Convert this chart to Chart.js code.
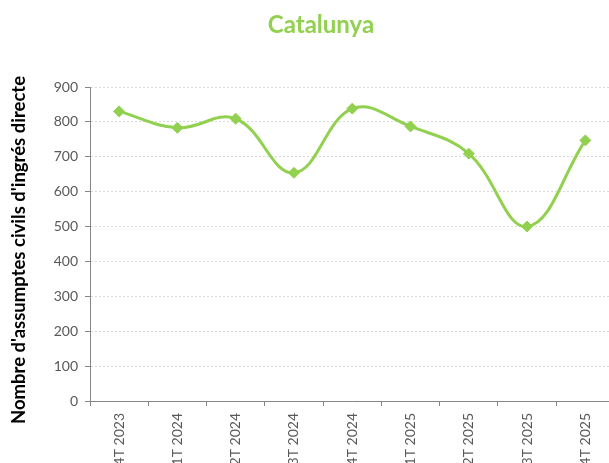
<!DOCTYPE html>
<html>
<head>
<meta charset="utf-8">
<script src="https://cdn.jsdelivr.net/npm/chart.js@4/dist/chart.umd.min.js"></script>
<style>
html, body { margin: 0; padding: 0; overflow: hidden; background: #fff; }
#wrap { position: absolute; left: 0; top: 0; width: 621px; height: 463px; }
</style>
</head>
<body>
<div id="wrap"><canvas id="c"></canvas></div>
<script>
const chartTitle = 'Catalunya';
const yAxisTitle = "Nombre d'assumptes civils d'ingrés directe";
const categories = ['4T 2023', '1T 2024', '2T 2024', '3T 2024', '4T 2024', '1T 2025', '2T 2025', '3T 2025', '4T 2025'];
const values = [830, 783, 809, 654, 838, 787, 709, 500, 747];
const yTicks = [0, 100, 200, 300, 400, 500, 600, 700, 800, 900];

const GREEN = '#92D050';
const AXIS = '#868686';
const GRID = '#d9d9d9';

const titlePlugin = {
  id: 'titles',
  afterDraw(chart) {
    const ctx = chart.ctx;
    ctx.save();
    ctx.font = 'bold 24px Lato';
    ctx.fillStyle = GREEN;
    ctx.textAlign = 'center';
    ctx.textBaseline = 'middle';
    ctx.fillText(chartTitle, 321, 25);
    ctx.restore();

    ctx.save();
    ctx.translate(19, 250);
    ctx.rotate(-Math.PI / 2);
    ctx.font = 'bold 18.5px Lato';
    ctx.fillStyle = '#000';
    ctx.textAlign = 'center';
    ctx.textBaseline = 'middle';
    ctx.fillText(yAxisTitle, 0, 0);
    ctx.restore();
  }
};

new Chart(document.getElementById('c'), {
  type: 'line',
  data: {
    labels: categories,
    datasets: [{
      data: values,
      borderColor: GREEN,
      backgroundColor: GREEN,
      borderWidth: 3,
      tension: 0.4,
      pointStyle: 'rectRot',
      pointRadius: 5.5,
      pointBorderWidth: 1,
      pointBackgroundColor: GREEN,
      pointBorderColor: GREEN,
      fill: false
    }]
  },
  options: {
    responsive: true,
    maintainAspectRatio: false,
    animation: false,
    layout: { padding: { top: 87, left: 0, right: 0, bottom: 0 } },
    plugins: { legend: { display: false }, title: { display: false }, tooltip: { enabled: false } },
    scales: {
      x: {
        offset: true,
        grid: { offset: true, drawOnChartArea: false, drawTicks: true, tickLength: 5, tickColor: AXIS, tickBorderDash: [] },
        border: { color: AXIS, width: 1 },
        ticks: { autoSkip: false, minRotation: 90, maxRotation: 90, padding: 7, color: '#595959', font: { family: 'Lato', size: 14 } },
        afterFit(scale) { scale.height = 62; }
      },
      y: {
        min: 0, max: 900,
        afterBuildTicks(scale) { scale.ticks = yTicks.map(v => ({ value: v })); },
        grid: { color: GRID, tickLength: 5, tickColor: AXIS, tickBorderDash: [] },
        border: { color: AXIS, width: 1, dash: [2, 2] },
        ticks: { padding: 7, color: '#595959', font: { family: 'Lato', size: 14 } },
        title: { display: false },
        afterFit(scale) { scale.width = 90; }
      }
    }
  },
  plugins: [titlePlugin]
});
</script>
</body>
</html>
